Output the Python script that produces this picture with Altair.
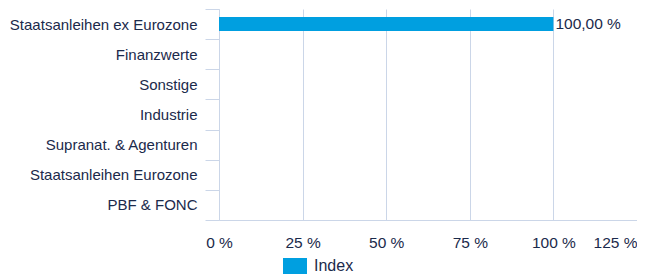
import altair as alt
import pandas as pd

categories = [
    "Staatsanleihen ex Eurozone",
    "Finanzwerte",
    "Sonstige",
    "Industrie",
    "Supranat. & Agenturen",
    "Staatsanleihen Eurozone",
    "PBF & FONC",
]
values = [100.0, 0, 0, 0, 0, 0, 0]
series = ["Index"] * len(categories)
x_ticks = [0, 25, 50, 75, 100, 125]

df = pd.DataFrame({"cat": categories, "value": values, "series": series})

NAVY = "#1b2a4b"
GRID = "#cbd6e8"
BLUE = "#009fe0"
FONT = "Liberation Sans"
FS = 15

y_enc = alt.Y(
    "cat:N",
    sort=categories,
    title=None,
    scale=alt.Scale(paddingInner=0, paddingOuter=0),
    axis=alt.Axis(
        tickBand="extent",
        tickSize=14,
        tickColor=GRID,
        domainColor=GRID,
        labelPadding=8,
        labelFontSize=FS,
        labelFont=FONT,
        labelColor=NAVY,
        labelLimit=400,
        grid=False,
    ),
)

x_enc = alt.X(
    "value:Q",
    title=None,
    scale=alt.Scale(domain=[0, 125], nice=False),
    axis=alt.Axis(
        values=x_ticks,
        grid=True,
        gridColor=GRID,
        domainColor=GRID,
        ticks=False,
        labelPadding=15,
        labelFontSize=15.5,
        labelFont=FONT,
        labelColor=NAVY,
        labelExpr="datum.value + ' %'",
        labelAlign=alt.expr("datum.value == 125 ? 'right' : 'center'"),
        labelOverlap=False,
    ),
)

bars = alt.Chart(df).mark_bar(size=14).encode(
    x=x_enc,
    y=y_enc,
    color=alt.Color(
        "series:N",
        scale=alt.Scale(range=[BLUE]),
        legend=alt.Legend(
            title=None,
            orient="none",
            legendX=64,
            legendY=245,
            direction="horizontal",
            symbolType="M-1,-0.6667H1V0.6667H-1Z",
            symbolSize=576,
            symbolStrokeWidth=0,
            labelFontSize=16,
            labelFont=FONT,
            labelColor=NAVY,
            labelOffset=7,
            padding=0,
        ),
    ),
)

labels = alt.Chart(df).transform_filter("datum.value > 0").transform_calculate(
    lbl="replace(format(datum.value, '.2f'), '.', ',') + ' %'"
).mark_text(align="left", baseline="middle", dx=2, fontSize=15.5, font=FONT, color=NAVY).encode(
    x="value:Q",
    y=alt.Y("cat:N", sort=categories),
    text="lbl:N",
)

chart = (bars + labels).properties(
    width=418,
    height=211,
    autosize=alt.AutoSizeParams(type="none"),
    padding={"left": 211, "top": 1, "right": 0, "bottom": 55},
).configure_view(stroke=None)

chart.save("out.html", embed_options={"renderer": "svg", "actions": False})
